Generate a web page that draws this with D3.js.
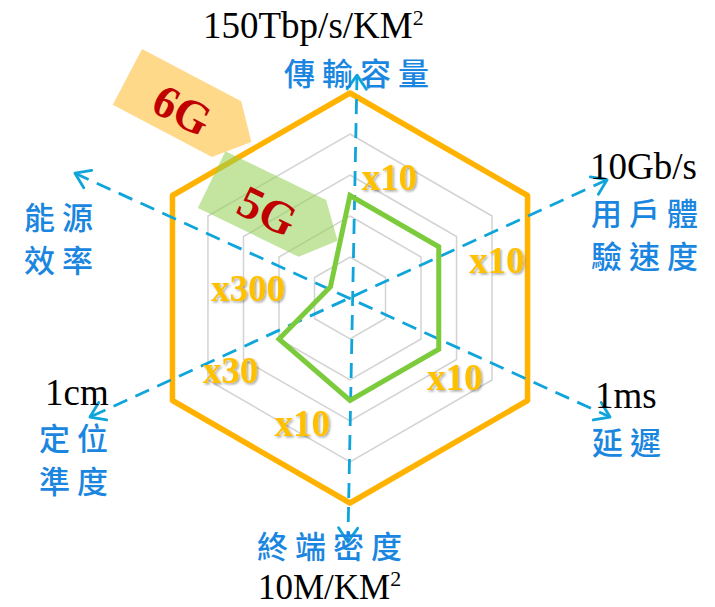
<!DOCTYPE html>
<html><head><meta charset="utf-8">
<script src="https://cdn.jsdelivr.net/npm/d3@7"></script>
<style>body{margin:0;background:#fff}svg{display:block}</style>
</head><body><svg id="c" width="715" height="607"></svg>
<script>
// ---------- data ----------
const categories = ["傳輸容量","用戶體驗速度","延遲","終端密度","定位準度","能源效率"];
const seriesNames = ["6G","5G"];
const series6G = [1,1,1,1,1,1];
const series5G = [0.5,0.5,0.5,0.5,0.4,0.11];
const multipliers = ["x10","x10","x10","x10","x30","x300"];
const unitLabels = ["150Tbp/s/KM²","10Gb/s","1ms","10M/KM²","1cm",""];
const gridLevels = [0.2,0.4,0.6,0.8];

// ---------- layout ----------
const W=715,H=607,cx=350,cy=298,R=205;
const catBreak=[0,3,0,0,2,2];
const catPos=[[284,85],[591,225],[592,454],[257,558],[39,450],[24,229]];
const unitPos=[[203,38],[590,179],[595,408],[258,599],[45,405],null];
const unitSize=[37,37,37,35,37,37];
const multPos=[[18,0.62],[75.5,0.74],[127,0.64],[201,0.65],[239,0.68],[276,0.5]];
// dashed axis lines: [angleDeg,len] of both ends
const axisLines=[[[1.8,223],[180.5,244]],[[65.3,283],[245.4,286]],[[294.4,302],[114.6,286]]];
// banners: centre offset from radar centre, rotation
const bannerLayout={"6G":{dx:-173,dy:-195,rot:27.7,fill:"#FFD98A",op:1},
                    "5G":{dx:-88,dy:-94,rot:25.9,fill:"#92D050",op:0.55}};

const svg=d3.select("#c");
svg.append("rect").attr("width",W).attr("height",H).attr("fill","#fff");
const defs=svg.append("defs");
const f=defs.append("filter").attr("id","sh").attr("x","-20%").attr("y","-20%").attr("width","140%").attr("height","140%");
f.append("feDropShadow").attr("dx",1.5).attr("dy",1.5).attr("stdDeviation",1).attr("flood-color","#000").attr("flood-opacity",0.35);

const g=svg.append("g").attr("transform",`translate(${cx},${cy})`);
const r=d3.scaleLinear().domain([0,1]).range([0,R]);
const ang=d3.scaleLinear().domain([0,categories.length]).range([0,2*Math.PI]);
const radial=d3.lineRadial().angle((d,i)=>ang(i)).radius(d=>r(d)).curve(d3.curveLinearClosed);

// grid
g.selectAll("path.grid").data(gridLevels).join("path").attr("class","grid")
 .attr("d",lv=>radial(categories.map(()=>lv)))
 .attr("fill","none").attr("stroke","#d3d3d3").attr("stroke-width",1.5);

// banners
function bannerPath(){
  const L=112,Hh=63,T=28;
  return `M${-L/2},${-Hh/2}L${L/2},${-Hh/2}L${L/2+T},0L${L/2},${Hh/2}L${-L/2},${Hh/2}Z`;
}
function drawBanner(name){
  const b=bannerLayout[name];
  const bg=g.append("g").attr("transform",`translate(${b.dx},${b.dy}) rotate(${b.rot})`);
  bg.append("path").attr("d",bannerPath()).attr("fill",b.fill).attr("fill-opacity",b.op);
  return bg;
}
const b6=drawBanner(seriesNames[0]);

// 6G hexagon
g.append("path").attr("d",radial(series6G)).attr("fill","none")
 .attr("stroke","#FFB300").attr("stroke-width",5.5).attr("stroke-linejoin","round");

const b5=drawBanner(seriesNames[1]);

// dashed axes
const axG=g.append("g").attr("stroke","#0FA5DA").attr("stroke-width",2.8).attr("fill","none");
axisLines.forEach(([e1,e2])=>{
  const p1=d3.pointRadial(e1[0]*Math.PI/180,e1[1]);
  const p2=d3.pointRadial(e2[0]*Math.PI/180,e2[1]);
  axG.append("line").attr("x1",p1[0]).attr("y1",p1[1]).attr("x2",p2[0]).attr("y2",p2[1])
    .attr("stroke-dasharray","15,9");
  [[p1,p2],[p2,p1]].forEach(([tip,from])=>{
    const a=Math.atan2(tip[1]-from[1],tip[0]-from[0]);
    const w=17,s=0.6;
    const w1=[tip[0]-w*Math.cos(a-s),tip[1]-w*Math.sin(a-s)];
    const w2=[tip[0]-w*Math.cos(a+s),tip[1]-w*Math.sin(a+s)];
    axG.append("path").attr("d",`M${w1}L${tip}L${w2}`).attr("stroke-linecap","round").attr("stroke-linejoin","round");
  });
});

// 5G polygon
g.append("path").attr("d",radial(series5G)).attr("fill","none")
 .attr("stroke","#7CCB3C").attr("stroke-width",5).attr("stroke-linejoin","miter");

// banner texts
[[b6,seriesNames[0]],[b5,seriesNames[1]]].forEach(([bg,name])=>{
  bg.append("text").text(name).attr("x",8).attr("y",4).attr("text-anchor","middle")
   .attr("dominant-baseline","central")
   .attr("font-family","'Liberation Serif','Times New Roman',serif").attr("font-weight","bold")
   .attr("font-size",46).attr("fill","#C00000");
});

// multipliers
g.selectAll("text.mult").data(multipliers).join("text").attr("class","mult")
 .attr("transform",(d,i)=>{const p=d3.pointRadial(multPos[i][0]*Math.PI/180,r(multPos[i][1]));return `translate(${p})`;})
 .attr("text-anchor","middle").attr("dy","0.36em")
 .attr("font-family","'Liberation Serif','Times New Roman',serif").attr("font-weight","bold")
 .attr("font-size",37).attr("fill","#FFC000").attr("filter","url(#sh)").text(d=>d);

// unit labels
unitLabels.forEach((u,i)=>{
  if(!u) return;
  const t=svg.append("text").attr("x",unitPos[i][0]).attr("y",unitPos[i][1])
    .attr("font-family","'Liberation Serif','Times New Roman',serif").attr("font-size",unitSize[i]).attr("fill","#000");
  const parts=u.split("²");
  t.append("tspan").text(parts[0]);
  if(parts.length>1){
    t.append("tspan").attr("font-size",22).attr("dy",-13).text("2");
  }
});

// category labels
categories.forEach((c,i)=>{
  const lines=catBreak[i]?[c.slice(0,catBreak[i]),c.slice(catBreak[i])]:[c];
  lines.forEach((ln,j)=>{
    svg.append("text").attr("x",catPos[i][0]).attr("y",catPos[i][1]+j*43)
     .attr("font-family","'Noto Sans CJK TC','Noto Sans CJK SC',sans-serif").attr("font-size",31)
     .attr("font-weight",500).attr("letter-spacing",7).attr("fill","#1A86E0").text(ln);
  });
});
</script></body></html>
